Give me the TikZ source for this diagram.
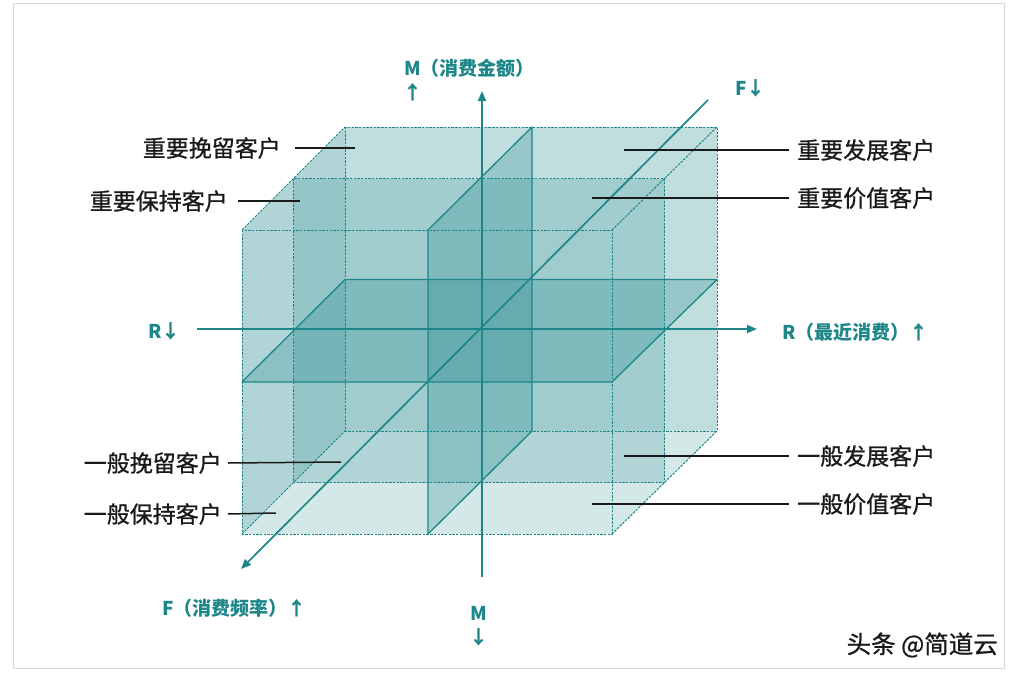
\documentclass[tikz,border=0pt]{standalone}
\usepackage{fontspec}
\newfontfamily\cjk{Noto Sans CJK SC}
\newfontfamily\cjkm[FakeBold=0.9]{Noto Sans CJK SC}
\usetikzlibrary{arrows.meta}
\definecolor{tealc}{RGB}{28,134,137}
\definecolor{dashc}{RGB}{30,132,134}
\definecolor{ink}{RGB}{25,25,25}
\definecolor{framec}{RGB}{216,216,216}
\begin{document}
\begin{tikzpicture}[x=1pt,y=-1pt,
  face/.style={fill=tealc, fill opacity=0.19, draw=none},
  backface/.style={fill=tealc, fill opacity=0.1, draw=none},
  hidden/.style={draw=dashc, line width=1pt, dash pattern=on 2.4pt off 1.3pt},
  plane/.style={fill=tealc, fill opacity=0.25, draw=tealc, draw opacity=1, line width=1.3pt, line join=round},
  axis/.style={draw=tealc, line width=1.7pt, -{Triangle[length=10pt,width=8pt]}},
  leader/.style={draw=ink, line width=1.5pt},
  lbl/.style={font=\cjkm\fontsize{23}{26}\selectfont, text=ink, inner sep=0pt},
  axlbl/.style={font=\cjk\bfseries\fontsize{19}{22}\selectfont, text=tealc, inner sep=0pt},
  wmark/.style={font=\cjkm\fontsize{24.5}{28}\selectfont, text=ink, inner sep=0pt}]
\useasboundingbox (0,0) rectangle (1018,678);
\fill[white] (0,0) rectangle (1018,678);
\draw[framec, line width=1pt] (13,3) rectangle (1004,668);

% cube corners
\coordinate (F1) at (242,230); \coordinate (F2) at (612,230);
\coordinate (F3) at (612,534); \coordinate (F4) at (242,534);
\coordinate (M1) at (293.5,178.5); \coordinate (M2) at (664.5,178.5);
\coordinate (M3) at (664.5,482.5); \coordinate (M4) at (293.5,482.5);
\coordinate (B1) at (345,127); \coordinate (B2) at (717,127);
\coordinate (B3) at (717,431); \coordinate (B4) at (345,431);

% translucent faces
\fill[face] (F1) -- (F2) -- (M2) -- (M1) -- cycle;
\fill[face] (M1) -- (M2) -- (B2) -- (B1) -- cycle;
\fill[face] (F1) -- (M1) -- (M4) -- (F4) -- cycle;
\fill[face] (M1) -- (B1) -- (B4) -- (M4) -- cycle;
\fill[face] (F2) -- (M2) -- (M3) -- (F3) -- cycle;
\fill[face] (M2) -- (B2) -- (B3) -- (M3) -- cycle;
\fill[backface] (B1) rectangle (B3);
\fill[face] (M1) rectangle (M3);
\fill[face] (F1) rectangle (F3);

% hidden (dashed) edges
\draw[hidden] (B1) rectangle (B3);
\draw[hidden] (M1) rectangle (M3);
\draw[hidden] (F1) rectangle (F3);
\draw[hidden] (F1) -- (B1);
\draw[hidden] (F2) -- (B2);
\draw[hidden] (F3) -- (B3);
\draw[hidden] (F4) -- (B4);

% planes
\coordinate (H1) at (242,382); \coordinate (H2) at (612,382);
\coordinate (H3) at (717,279.5); \coordinate (H4) at (345,279.5);
\coordinate (V1) at (428,230); \coordinate (V2) at (532,127);
\coordinate (V3) at (532,431); \coordinate (V4) at (428,534);
\filldraw[plane] (H1) -- (H2) -- (H3) -- (H4) -- cycle;
\filldraw[plane] (V1) -- (V2) -- (V3) -- (V4) -- cycle;

% axes
\coordinate (Mbot) at (482,577); \coordinate (Mtop) at (482,91);
\coordinate (Rl) at (197,329); \coordinate (Rr) at (757,329);
\coordinate (Fb) at (708,100); \coordinate (Ff) at (241,569);
\draw[axis] (Mbot) -- (Mtop);
\draw[axis] (Rl) -- (Rr);
\draw[axis] (Fb) -- (Ff);

% axis labels
\node[axlbl, anchor=west] (mlab) at (404,68) {M（消费金额）};
\node[axlbl] (mup) at (413,92) {↑};
\node[axlbl, anchor=west] (flab) at (735,88) {F↓};
\node[axlbl, anchor=west] (rlab) at (148,331) {R↓};
\node[axlbl, anchor=west] (rrlab) at (782,332) {R（最近消费）↑};
\node[axlbl, anchor=west] (fflab) at (162,608) {F（消费频率）↑};
\node[axlbl] (mblab) at (479,613) {M};
\node[axlbl] (mdown) at (479,637) {↓};

% segment labels
\node[lbl, anchor=east] (lA) at (281,148) {重要挽留客户};
\node[lbl, anchor=east] (lB) at (228,201) {重要保持客户};
\node[lbl, anchor=west] (lC) at (797,150) {重要发展客户};
\node[lbl, anchor=west] (lD) at (797,198) {重要价值客户};
\node[lbl, anchor=east] (lE) at (222,463) {一般挽留客户};
\node[lbl, anchor=east] (lF) at (222,514) {一般保持客户};
\node[lbl, anchor=west] (lG) at (797,456) {一般发展客户};
\node[lbl, anchor=west] (lH) at (797,504) {一般价值客户};

\coordinate (pA) at (355,148); \coordinate (pB) at (300,201);
\coordinate (pC) at (624,150); \coordinate (pD) at (592,198);
\coordinate (pE) at (341,462); \coordinate (pF) at (276,513);
\coordinate (pG) at (624,456); \coordinate (pH) at (592,504);
\draw[leader] ([xshift=14pt]lA.east) -- (pA);
\draw[leader] ([xshift=10pt]lB.east) -- (pB);
\draw[leader] ([xshift=-8pt]lC.west) -- (pC);
\draw[leader] ([xshift=-8pt]lD.west) -- (pD);
\draw[leader] ([xshift=6pt]lE.east) -- (pE);
\draw[leader] ([xshift=6pt]lF.east) -- (pF);
\draw[leader] ([xshift=-8pt]lG.west) -- (pG);
\draw[leader] ([xshift=-8pt]lH.west) -- (pH);

% watermark
\node[wmark, anchor=east] (wm) at (998,645) {头条 @简道云};
\end{tikzpicture}
\end{document}
